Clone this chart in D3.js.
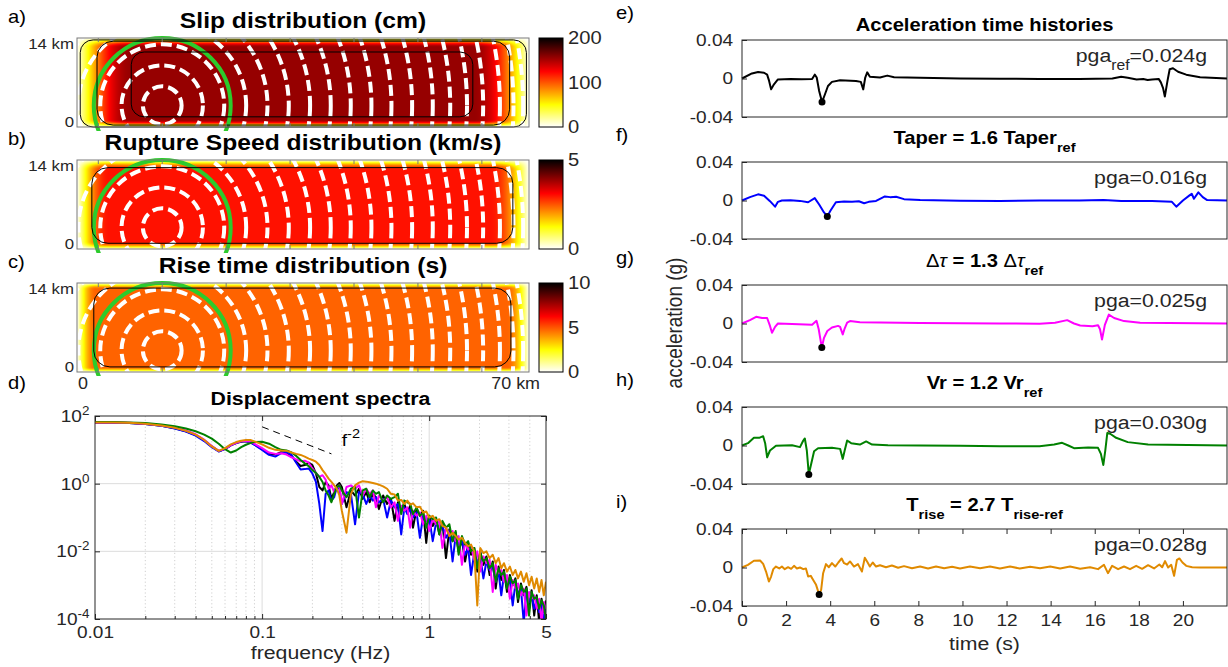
<!DOCTYPE html>
<html>
<head>
<meta charset="utf-8">
<script src="https://cdn.jsdelivr.net/npm/d3@7"></script>
<style>
  body { margin: 0; background: #fff; }
  svg { display: block; font-family: "Liberation Sans", Arial, Helvetica, sans-serif; }
</style>
</head>
<body>
<svg id="fig" width="1228" height="667"></svg>
<script>
// ---------------- data ----------------
const faultLength = 70, faultWidth = 14;
const hypocenter = [13.2, 3.4];
const ruptureRadii = [3.0, 6.3, 9.6, 13.0, 16.3, 19.6, 22.9, 26.1, 29.2, 32.4, 35.5, 38.7, 41.9, 44.6, 47.2, 49.7, 52.3, 54.4, 55.9];
const greenRadius = 10.6;
const faultTicks = [3.3, 13.2, 23.1, 33.0, 42.9, 52.8, 62.7];

const mapLetters = ['a)', 'b)', 'c)'];
const mapTitles = ['Slip distribution (cm)', 'Rupture Speed distribution (km/s)', 'Rise time distribution (s)'];
const mapMax = [200, 5, 10];
const mapColorTicks = [[0, 100, 200], [0, 5], [0, 5, 10]];
const mapPeak = [156, 3.0, 4.8];
const taperLeft = [8.5, 5.0, 3.0];
const taperRight = [8.7, 6.0, 3.5];
const taperTop = [1.5, 1.6, 1.0];
const taperBottom = [1.2, 1.2, 0.8];
// rounded outlines [x0, x1, y0, y1, corner] in km
const mapOutlines = [
  [[8.4, 61.3, 1.6, 11.8, 2.0], [3.1, 67.0, 0.3, 13.5, 2.5], [0.5, 69.6, 0.0, 13.7, 2.0]],
  [[2.3, 67.5, 0.9, 12.8, 2.5]],
  [[2.6, 67.2, 0.8, 13.2, 2.5]]
];

// displacement spectra (log10 amplitude on a shared frequency list)
const specFreq = [
  0.01, 0.013, 0.016, 0.02, 0.025, 0.03, 0.035, 0.04, 0.045, 0.05,
  0.055, 0.06, 0.065, 0.07, 0.075, 0.08, 0.085, 0.09, 0.1, 0.11,
  0.12, 0.13, 0.14, 0.15, 0.16, 0.17, 0.18, 0.19, 0.2, 0.21,
  0.22, 0.23, 0.24, 0.25, 0.26, 0.27, 0.28, 0.29, 0.3, 0.32,
  0.34, 0.36, 0.38, 0.4, 0.42, 0.44, 0.46, 0.48, 0.5, 0.53,
  0.56, 0.59, 0.62, 0.65, 0.68, 0.71, 0.74, 0.77, 0.8, 0.84,
  0.88, 0.92, 0.96, 1.0, 1.05, 1.1, 1.15, 1.2, 1.26, 1.32,
  1.38, 1.44, 1.5, 1.57, 1.64, 1.71, 1.78, 1.86, 1.94, 2.02,
  2.11, 2.2, 2.3, 2.4, 2.5, 2.6, 2.7, 2.8, 2.92, 3.04,
  3.16, 3.28, 3.4, 3.54, 3.68, 3.82, 3.96, 4.1, 4.25, 4.4,
  4.55, 4.7, 4.85, 5.0
];
const specRef = [
  1.80, 1.80, 1.79, 1.76, 1.71, 1.64, 1.55, 1.44, 1.28, 1.10,
  0.96, 1.02, 1.13, 1.20, 1.24, 1.25, 1.22, 1.16, 1.02, 0.88,
  0.86, 0.93, 0.92, 0.82, 0.65, 0.52, 0.55, 0.62, 0.55, 0.30,
  -0.10, -0.20, 0.05, -0.05, -0.45, -0.25, -0.05, 0.02, -0.10, -0.70,
  -0.20, -0.35, -0.15, -0.45, -0.25, -0.55, -0.30, -0.40, -0.75, -0.35,
  -0.60, -0.45, -1.10, -0.55, -0.75, -0.60, -0.85, -0.65, -1.30, -0.75,
  -0.95, -0.80, -1.75, -0.95, -1.25, -1.05, -1.50, -1.15, -2.20, -1.35,
  -1.70, -1.45, -2.00, -1.65, -2.30, -1.80, -2.10, -1.90, -2.60, -2.00,
  -2.40, -2.15, -2.70, -2.30, -3.10, -2.45, -2.85, -2.55, -3.20, -2.70,
  -3.00, -2.80, -3.50, -2.95, -3.30, -3.05, -3.70, -3.15, -3.90, -3.30,
  -4.10, -3.40, -3.80, -3.45
];
const specTaper = [
  1.80, 1.80, 1.79, 1.76, 1.71, 1.63, 1.54, 1.42, 1.26, 1.08,
  0.95, 1.03, 1.14, 1.21, 1.25, 1.26, 1.22, 1.15, 1.00, 0.85,
  0.80, 0.90, 0.93, 0.85, 0.62, 0.42, 0.43, 0.45, 0.30, 0.05,
  -0.60, -1.40, -0.30, -0.20, -0.50, -0.40, -0.10, -0.15, -0.60, -0.25,
  -0.30, -1.20, -0.25, -0.30, -0.60, -0.35, -0.50, -0.40, -0.55, -0.45,
  -1.00, -0.50, -0.70, -0.60, -1.50, -0.70, -0.90, -0.75, -1.00, -0.85,
  -1.60, -0.95, -1.10, -1.00, -1.70, -1.15, -1.35, -1.25, -1.60, -1.40,
  -2.30, -1.55, -1.80, -1.70, -2.10, -1.90, -2.70, -2.05, -2.30, -2.15,
  -2.80, -2.30, -2.55, -2.45, -2.90, -2.60, -3.30, -2.70, -3.00, -2.85,
  -3.60, -2.95, -3.25, -3.10, -4.10, -3.20, -3.50, -3.30, -3.70, -3.45,
  -3.80, -3.55, -4.10, -3.60
];
const specStress = [
  1.81, 1.81, 1.80, 1.77, 1.72, 1.66, 1.57, 1.46, 1.30, 1.11,
  0.97, 1.03, 1.14, 1.21, 1.25, 1.27, 1.24, 1.18, 1.05, 0.92,
  0.88, 0.90, 0.86, 0.78, 0.72, 0.66, 0.68, 0.62, 0.45, 0.32,
  0.20, 0.25, 0.12, -0.15, -0.05, -0.25, -0.10, -0.05, -0.60, -0.10,
  -0.05, -0.15, -0.05, -0.35, -0.15, -0.30, -0.20, -0.70, -0.35, -0.50,
  -0.40, -0.70, -0.55, -1.10, -0.65, -0.80, -0.70, -1.30, -0.80, -0.95,
  -0.85, -1.20, -0.95, -1.40, -1.05, -1.20, -1.10, -1.90, -1.30, -1.50,
  -1.40, -1.70, -1.55, -2.40, -1.75, -1.95, -1.85, -2.25, -2.00, -2.60,
  -2.15, -2.35, -2.25, -3.20, -2.40, -2.65, -2.55, -2.90, -2.70, -3.40,
  -2.85, -3.10, -2.95, -3.30, -3.10, -3.90, -3.20, -3.40, -3.30, -3.70,
  -3.40, -4.10, -3.50, -3.70
];
const specVr = [
  1.82, 1.82, 1.81, 1.79, 1.75, 1.70, 1.63, 1.55, 1.45, 1.33,
  1.18, 1.02, 0.92, 0.98, 1.08, 1.15, 1.20, 1.23, 1.24, 1.18,
  1.08, 1.00, 0.98, 0.92, 0.82, 0.70, 0.60, 0.52, 0.40, 0.32,
  0.20, 0.05, -0.20, -0.35, -0.55, -0.30, -0.10, -0.05, -0.20, -0.40,
  -0.15, -0.10, -1.00, -0.20, -0.15, -0.40, -0.20, -0.30, -0.25, -0.55,
  -0.35, -0.45, -0.40, -0.30, -0.90, -0.50, -0.55, -0.60, -0.90, -0.70,
  -0.95, -0.85, -1.30, -0.95, -1.05, -1.00, -1.50, -1.10, -1.30, -1.20,
  -1.70, -1.40, -2.10, -1.55, -1.80, -1.70, -2.00, -1.90, -2.50, -2.05,
  -2.30, -2.20, -2.50, -2.35, -2.90, -2.50, -2.70, -2.60, -3.10, -2.75,
  -2.95, -2.85, -3.40, -3.00, -3.20, -3.10, -3.90, -3.20, -3.40, -3.35,
  -3.70, -3.45, -3.60, -4.00
];
const specRise = [
  1.81, 1.81, 1.80, 1.77, 1.72, 1.65, 1.56, 1.45, 1.29, 1.10,
  0.97, 1.05, 1.16, 1.23, 1.27, 1.29, 1.29, 1.25, 1.16, 1.06,
  1.00, 0.98, 0.97, 0.92, 0.88, 0.85, 0.80, 0.74, 0.70, 0.65,
  0.55, 0.40, 0.28, 0.15, 0.05, -0.05, -0.15, -0.35, -0.80, -1.45,
  -0.30, -0.05, 0.03, 0.07, 0.06, 0.04, 0.02, 0.00, -0.03, -0.08,
  -0.15, -0.30, -0.32, -0.50, -0.48, -0.60, -0.50, -0.62, -0.58, -0.70,
  -0.68, -0.85, -0.82, -1.00, -0.95, -1.10, -1.05, -1.25, -1.30, -1.55,
  -1.45, -1.55, -1.65, -1.60, -1.75, -1.85, -1.80, -2.00, -3.60, -1.90,
  -2.05, -2.00, -2.20, -2.10, -2.35, -2.20, -2.50, -2.35, -2.60, -2.45,
  -2.70, -2.55, -2.80, -2.60, -2.90, -2.65, -3.00, -2.75, -3.10, -2.80,
  -3.20, -2.85, -3.30, -2.90
];
const specXTicks = [0.01, 0.1, 1, 5];
const specYTicks = [1e-4, 1e-2, 1, 1e2];
const slopeGuide = [[0.1, 47.9], [0.26, 7.6]];

// acceleration time histories [t (s), a (g)]
const accRef = [[0,0],[0.45,0.0053],[0.73,0.0067],[1.0,0.006],[1.14,0.004],[1.23,-0.0025],[1.32,-0.0113],[1.45,-0.006],[1.63,-0.001],[2.2,-0.0005],[2.7,-0.0008],[3.18,-0.0005],[3.3,0.004],[3.39,0.001],[3.5,-0.013],[3.63,-0.0245],[3.76,-0.0166],[3.9,-0.0078],[4.08,-0.0035],[4.45,-0.0018],[5.17,-0.0025],[5.39,-0.0035],[5.5,-0.0113],[5.59,0.001],[5.68,0.0064],[5.8,0.0018],[6.26,0.001],[6.59,0.003],[6.9,0.0014],[8.08,0.0007],[9.9,0],[11.7,-0.0002],[13.5,-0.0004],[15.3,-0.0004],[16.8,0],[17.2,0.0018],[17.5,0.0007],[17.9,-0.001],[18.2,-0.0006],[18.4,-0.0016],[18.6,-0.0010],[18.9,-0.0004],[19.0,-0.004],[19.1,-0.01],[19.18,-0.0188],[19.3,-0.0025],[19.4,0.0096],[19.55,0.0106],[19.78,0.007],[20.15,0.004],[20.78,0.0014],[22,0]];
const accTaper = [[0,0],[0.36,0.0035],[0.73,0.0064],[1.0,0.005],[1.27,-0.0007],[1.5,-0.0064],[1.63,-0.0014],[1.81,0],[2.2,0.0003],[2.63,-0.0004],[3.0,-0.0018],[3.3,0.0025],[3.5,-0.0042],[3.72,-0.0124],[3.87,-0.0165],[4.01,-0.0106],[4.26,-0.0018],[4.63,-0.0011],[4.99,-0.0014],[5.3,-0.0008],[5.54,-0.0028],[5.75,-0.0014],[6.08,-0.0004],[6.35,0.0028],[6.48,0.0042],[6.72,0.0035],[6.99,0.0039],[7.35,0.0014],[8.08,0.0004],[9.9,-0.0002],[11.7,-0.0004],[13.5,0],[15.3,0],[16.4,0.0004],[17.2,-0.0004],[18.6,-0.0004],[19.5,-0.0014],[19.7,-0.0064],[20.0,0],[20.3,0.0053],[20.4,0.007],[20.5,0.0018],[20.7,0.0085],[20.9,0.0035],[21.1,0.0004],[22,0]];
const accStress = [[0,0],[0.36,0.0035],[0.64,0.007],[0.91,0.0057],[1.14,0.0057],[1.27,-0.0025],[1.36,-0.0096],[1.5,-0.0035],[1.63,0],[2.27,-0.0004],[3.18,-0.0014],[3.38,0.0028],[3.48,-0.006],[3.62,-0.025],[3.72,-0.0149],[3.87,-0.0078],[4.08,-0.0042],[4.36,-0.0025],[4.45,-0.0035],[4.57,-0.0113],[4.66,-0.005],[4.77,0.001],[4.9,0.0025],[5.35,0.0014],[6.26,0.0011],[8.08,0.0004],[9.9,0.0002],[11.7,0],[13.5,-0.0002],[14.2,0.0007],[14.75,0.0035],[15.06,0],[15.34,-0.002],[15.9,-0.0028],[16.15,-0.0018],[16.24,-0.006],[16.33,-0.0166],[16.46,-0.0014],[16.64,0.0092],[16.88,0.0057],[17.33,0.0025],[18.06,0.0007],[22,0]];
const accVr = [[0,0],[0.27,0.0024],[0.54,0.008],[0.78,0.008],[0.96,0.0097],[1.05,0.0024],[1.14,-0.0122],[1.27,-0.0052],[1.54,-0.0003],[2.27,0.0003],[2.63,-0.0017],[2.78,0.0052],[2.85,0.0073],[2.94,-0.0052],[3.03,-0.0300],[3.14,-0.019],[3.27,-0.0059],[3.45,-0.0028],[4.08,-0.0024],[4.45,-0.0035],[4.57,-0.0139],[4.66,-0.005],[4.77,0.0052],[4.95,0.0024],[5.35,0.001],[5.63,0.0042],[5.9,0.001],[6.62,0.0003],[8.08,0],[9.9,-0.0003],[11.7,-0.0007],[13.5,-0.0007],[14.16,0.001],[14.52,0.0028],[14.8,0],[15.06,-0.0028],[15.7,-0.0021],[16.15,-0.0024],[16.28,-0.0087],[16.39,-0.0202],[16.48,-0.005],[16.57,0.0129],[16.7,0.0122],[16.97,0.008],[17.5,0.0035],[18.42,0.001],[22,0]];
const accRise = [[0,0],[0.27,0.0028],[0.54,0.007],[0.82,0.0073],[0.96,0.0038],[1.09,-0.0042],[1.22,-0.0146],[1.32,-0.0094],[1.42,-0.0017],[1.54,0.001],[1.69,-0.001],[1.81,0.001],[1.94,-0.0017],[2.09,0.0003],[2.23,-0.0014],[2.36,0.0017],[2.49,-0.001],[2.63,0],[2.78,-0.0017],[2.9,-0.001],[3.0,-0.0094],[3.12,-0.0087],[3.23,-0.0129],[3.36,-0.018],[3.5,-0.028],[3.59,-0.0233],[3.68,-0.0059],[3.81,0.0035],[3.94,0.0003],[4.08,0.0045],[4.23,0.001],[4.37,0.0052],[4.52,0.0094],[4.63,0.0045],[4.77,0.0031],[4.9,0.0063],[5.08,0.001],[5.26,0.0035],[5.44,-0.0042],[5.57,0.0101],[5.68,0.0059],[5.8,0.001],[5.93,0.0052],[6.08,0.001],[6.26,0.0024],[6.53,0.0003],[6.8,0.0021],[7.08,-0.0003],[7.35,0.0014],[7.71,-0.0007],[8.08,0.001],[8.44,-0.001],[8.8,0.001],[9.17,-0.0007],[9.53,0.0007],[9.89,-0.001],[10.34,0.001],[10.8,-0.0007],[11.25,0.001],[11.7,-0.001],[12.16,0.001],[12.6,-0.001],[13.07,0.0007],[13.52,-0.0007],[13.98,0.001],[14.43,-0.001],[14.88,0.001],[15.34,-0.0014],[15.79,0.0003],[16.15,-0.0017],[16.42,0.0028],[16.6,-0.0059],[16.79,0.0017],[17.06,-0.0017],[17.33,0.001],[17.6,-0.0017],[17.88,0.0017],[18.15,-0.0014],[18.42,0.0024],[18.69,-0.001],[18.93,0.0031],[19.06,0.0003],[19.19,0.0066],[19.33,0],[19.47,0.0028],[19.6,-0.0087],[19.73,0.008],[19.84,0.0094],[19.98,0.0052],[20.15,0.0017],[20.42,0.0003],[20.78,0],[22,0]];

const seriesColors = ['#000000', '#0000ff', '#ff00ff', '#008000', '#e08a00'];
const accSeries = [accRef, accTaper, accStress, accVr, accRise];
const specSeries = [specRef, specTaper, specStress, specVr, specRise];
const accLetters = ['e)', 'f)', 'g)', 'h)', 'i)'];
const accTitles = [
  [['Acceleration time histories']],
  [['Taper = 1.6 Taper'], ['ref', 'sub']],
  [['\u0394', 'g'], ['\u03c4', 'gi'], [' = 1.3 '], ['\u0394', 'g'], ['\u03c4', 'gi'], ['ref', 'sub']],
  [['Vr = 1.2 Vr'], ['ref', 'sub']],
  [['T'], ['rise', 'sub'], [' = 2.7 T'], ['rise-ref', 'sub']]
];
const pgaLabels = [
  [['pga'], ['ref', 'sub'], ['=0.024g']],
  [['pga=0.016g']],
  [['pga=0.025g']],
  [['pga=0.030g']],
  [['pga=0.028g']]
];
const accTicks = [-0.04, 0, 0.04];
const timeTicks = [0, 2, 4, 6, 8, 10, 12, 14, 16, 18, 20];

// ---------------- layout ----------------
const SX = 1.12;               // figure is slightly stretched horizontally
const MX0 = 77, MX1 = 529, MH = 89, mapTops = [38, 160, 283];
const CBX = 539, CBW = 24;
const SP = { x0: 95, x1: 546, y0: 416, y1: 619 };
const TX0 = 742, TX1 = 1227, TH = 77, accTops = [40, 162, 285, 407, 529];
const INK = '#262626';

const svg = d3.select('#fig');
const defs = svg.append('defs');

function hotRev(t) {
  const h = 1 - Math.max(0, Math.min(1, t));
  const r = Math.min(1, h / 0.375);
  const g = Math.max(0, Math.min(1, (h - 0.375) / 0.375));
  const b = Math.max(0, Math.min(1, (h - 0.75) / 0.25));
  return d3.rgb(r * 255, g * 255, b * 255);
}

function txt(g, x, y, parts, o = {}) {
  const size = o.size || 17;
  const t = g.append('text')
    .attr('transform', `translate(${x},${y}) scale(${SX},1)`)
    .attr('font-size', size)
    .attr('font-weight', o.bold ? 'bold' : null)
    .attr('text-anchor', o.anchor || 'start')
    .attr('fill', o.fill || INK);
  if (typeof parts === 'string') parts = [[parts]];
  let shift = 0;
  parts.forEach(([s, st]) => {
    const sp = t.append('tspan').text(s);
    const target = st === 'sub' ? Math.round(size * 0.42) : st === 'sup' ? -Math.round(size * 0.45) : 0;
    if (target !== shift) { sp.attr('dy', target - shift); shift = target; }
    if (st === 'sub' || st === 'sup') sp.attr('font-size', Math.round(size * 0.74));
    if (st === 'g') sp.attr('font-weight', 'normal');
    if (st === 'gi') sp.attr('font-weight', 'normal').attr('font-style', 'italic');
  });
  return t;
}

function taper(d, w) {
  if (d <= 0) return 0;
  if (d >= w) return 1;
  return Math.sin(Math.PI / 2 * d / w);
}

// ---------------- fault maps a-c ----------------
const xs = d3.scaleLinear().domain([0, faultLength]).range([MX0, MX1]);

mapTops.forEach((top, k) => {
  const ys = d3.scaleLinear().domain([0, faultWidth]).range([top + MH, top]);
  const color = d3.scaleSequential(hotRev).domain([0, mapMax[k]]);
  const g = svg.append('g');

  // field image
  const w = MX1 - MX0, h = MH;
  const cv = document.createElement('canvas');
  cv.width = w; cv.height = h;
  const ctx = cv.getContext('2d');
  const img = ctx.createImageData(w, h);
  for (let j = 0; j < h; j++) {
    const yk = ys.invert(top + j + 0.5);
    const ty = taper(yk, taperBottom[k]) * taper(faultWidth - yk, taperTop[k]);
    for (let i = 0; i < w; i++) {
      const xk = xs.invert(MX0 + i + 0.5);
      const v = mapPeak[k] * ty * taper(xk, taperLeft[k]) * taper(faultLength - xk, taperRight[k]);
      const c = d3.rgb(color(v));
      const p = (j * w + i) * 4;
      img.data[p] = c.r; img.data[p + 1] = c.g; img.data[p + 2] = c.b; img.data[p + 3] = 255;
    }
  }
  ctx.putImageData(img, 0, 0);
  g.append('image').attr('x', MX0).attr('y', top).attr('width', w).attr('height', h)
    .attr('preserveAspectRatio', 'none').attr('href', cv.toDataURL());

  defs.append('clipPath').attr('id', 'clipMap' + k)
    .append('rect').attr('x', MX0).attr('y', top).attr('width', w).attr('height', h);
  defs.append('clipPath').attr('id', 'clipMapG' + k)
    .append('rect').attr('x', MX0).attr('y', top - 4).attr('width', w).attr('height', h + 8);

  const cx = xs(hypocenter[0]), cy = ys(hypocenter[1]);
  const rx = r => xs(hypocenter[0] + r) - cx, ry = r => cy - ys(hypocenter[1] + r);

  g.append('g').attr('clip-path', `url(#clipMap${k})`)
    .selectAll('ellipse').data(ruptureRadii).join('ellipse')
    .attr('cx', cx).attr('cy', cy).attr('rx', rx).attr('ry', ry)
    .attr('fill', 'none').attr('stroke', '#fff').attr('stroke-width', 4)
    .attr('stroke-dasharray', '11,5');

  g.append('g').attr('clip-path', `url(#clipMapG${k})`)
    .append('ellipse')
    .attr('cx', cx).attr('cy', cy).attr('rx', rx(greenRadius)).attr('ry', ry(greenRadius))
    .attr('fill', 'none').attr('stroke', '#2ccb2c').attr('stroke-width', 4);

  g.selectAll('rect.outline').data(mapOutlines[k]).join('rect').attr('class', 'outline')
    .attr('x', d => xs(d[0])).attr('y', d => ys(d[3]))
    .attr('width', d => xs(d[1]) - xs(d[0])).attr('height', d => ys(d[2]) - ys(d[3]))
    .attr('rx', d => xs(d[4]) - xs(0)).attr('ry', d => ys(0) - ys(d[4]))
    .attr('fill', 'none').attr('stroke', '#000').attr('stroke-width', 1);

  g.append('rect').attr('x', MX0).attr('y', top).attr('width', w).attr('height', h)
    .attr('fill', 'none').attr('stroke', '#7a7a7a').attr('stroke-width', 1);
  g.selectAll('line.ft').data(faultTicks).join('line').attr('class', 'ft')
    .attr('x1', d => xs(d)).attr('x2', d => xs(d)).attr('y1', top).attr('y2', top + 4)
    .attr('stroke', '#7a7a7a');
  g.selectAll('line.fb').data(faultTicks).join('line').attr('class', 'fb')
    .attr('x1', d => xs(d)).attr('x2', d => xs(d)).attr('y1', top + h).attr('y2', top + h - 4)
    .attr('stroke', '#7a7a7a');

  txt(g, 74, top + 11, '14 km', { size: 15, anchor: 'end' });
  txt(g, 74, top + h, '0', { size: 15, anchor: 'end' });
  txt(g, (MX0 + MX1) / 2, top - 10, mapTitles[k], { size: 22, bold: true, anchor: 'middle', fill: '#000' });
  txt(g, 8, top - 15, mapLetters[k], { size: 18, fill: '#000' });

  // colorbar
  const grad = defs.append('linearGradient').attr('id', 'cb' + k)
    .attr('x1', 0).attr('y1', 1).attr('x2', 0).attr('y2', 0);
  d3.range(0, 41).forEach(i => grad.append('stop')
    .attr('offset', i / 40).attr('stop-color', color(mapMax[k] * i / 40)));
  const cbs = d3.scaleLinear().domain([0, mapMax[k]]).range([top + h, top]);
  g.append('rect').attr('x', CBX).attr('y', top).attr('width', CBW).attr('height', h)
    .attr('fill', `url(#cb${k})`).attr('stroke', '#000').attr('stroke-width', 1);
  mapColorTicks[k].forEach(v => {
    txt(g, CBX + CBW + 5, cbs(v) + 6, String(v), { size: 18 });
  });
});
txt(svg, 8, 389, 'd)', { size: 18, fill: '#000' });
txt(svg, xs(0) + 1, 389, '0', { size: 16 });
txt(svg, xs(faultLength) + 11, 389, '70 km', { size: 16, anchor: 'end' });

// ---------------- spectra d ----------------
const sx = d3.scaleLog().domain([0.01, 5]).range([SP.x0, SP.x1]);
const sy = d3.scaleLog().domain([1e-4, 1e2]).range([SP.y1, SP.y0]);
const gs = svg.append('g');
const minor = sx.ticks().filter(f => !specXTicks.includes(f) && Math.abs(Math.log10(f) - Math.round(Math.log10(f))) > 1e-6);
gs.selectAll('line.mg').data(minor).join('line')
  .attr('x1', d => sx(d)).attr('x2', d => sx(d)).attr('y1', SP.y0).attr('y2', SP.y1)
  .attr('stroke', '#c4c4c4').attr('stroke-width', 0.8).attr('stroke-dasharray', '1.2,2.4');
gs.selectAll('line.gx').data([0.1, 1]).join('line')
  .attr('x1', d => sx(d)).attr('x2', d => sx(d)).attr('y1', SP.y0).attr('y2', SP.y1)
  .attr('stroke', '#dcdcdc').attr('stroke-width', 1);
gs.selectAll('line.gy').data([1e-2, 1]).join('line')
  .attr('y1', d => sy(d)).attr('y2', d => sy(d)).attr('x1', SP.x0).attr('x2', SP.x1)
  .attr('stroke', '#dcdcdc').attr('stroke-width', 1);

defs.append('clipPath').attr('id', 'clipSpec')
  .append('rect').attr('x', SP.x0).attr('y', SP.y0).attr('width', SP.x1 - SP.x0).attr('height', SP.y1 - SP.y0);
const specLine = d3.line().x((d, i) => sx(specFreq[i])).y(d => sy(Math.pow(10, d)));
gs.append('g').attr('clip-path', 'url(#clipSpec)')
  .selectAll('path').data(specSeries).join('path')
  .attr('d', specLine).attr('fill', 'none')
  .attr('stroke', (d, i) => seriesColors[i]).attr('stroke-width', 2).attr('stroke-linejoin', 'round');

gs.append('path')
  .attr('d', d3.line().x(d => sx(d[0])).y(d => sy(d[1]))(slopeGuide))
  .attr('fill', 'none').attr('stroke', '#000').attr('stroke-width', 1).attr('stroke-dasharray', '7,5');
txt(gs, sx(0.3), sy(Math.pow(10, 1.1)), [['f'], ['-2', 'sup']], { size: 17, fill: '#000' });

const axB = gs.append('g').attr('transform', `translate(0,${SP.y1})`)
  .call(d3.axisBottom(sx).tickValues(specXTicks).tickFormat(d => String(d)).tickSizeInner(-5).tickSizeOuter(0).tickPadding(7));
const axBm = gs.append('g').attr('transform', `translate(0,${SP.y1})`)
  .call(d3.axisBottom(sx).tickValues(minor).tickFormat('').tickSizeInner(-3).tickSizeOuter(0));
const axT = gs.append('g').attr('transform', `translate(0,${SP.y0})`)
  .call(d3.axisTop(sx).tickValues(specXTicks).tickFormat('').tickSizeInner(-5).tickSizeOuter(0));
const axL = gs.append('g').attr('transform', `translate(${SP.x0},0)`)
  .call(d3.axisLeft(sy).tickValues(specYTicks).tickSizeInner(-5).tickSizeOuter(0).tickPadding(5));
const axR = gs.append('g').attr('transform', `translate(${SP.x1},0)`)
  .call(d3.axisRight(sy).tickValues(specYTicks).tickFormat('').tickSizeInner(-5).tickSizeOuter(0));
[axB, axBm, axT, axL, axR].forEach(a => {
  a.select('.domain').remove();
  a.selectAll('line').attr('stroke', INK);
  a.selectAll('text').attr('font-size', 17).attr('fill', INK).attr('font-family', null)
    .attr('transform', `scale(${SX},1)`);
});
axL.selectAll('text').each(function (d) {
  const t = d3.select(this).text('');
  t.append('tspan').text('10');
  t.append('tspan').attr('dy', -7).attr('font-size', 12).text(String(Math.round(Math.log10(d))));
});
gs.append('rect').attr('x', SP.x0).attr('y', SP.y0).attr('width', SP.x1 - SP.x0).attr('height', SP.y1 - SP.y0)
  .attr('fill', 'none').attr('stroke', INK).attr('stroke-width', 1);
txt(gs, (SP.x0 + SP.x1) / 2, SP.y0 - 11, 'Displacement spectra', { size: 19, bold: true, anchor: 'middle', fill: '#000' });
txt(gs, (SP.x0 + SP.x1) / 2, 659, 'frequency (Hz)', { size: 19, anchor: 'middle' });

// ---------------- acceleration e-i ----------------
const tx = d3.scaleLinear().domain([0, 22]).range([TX0, TX1]);
accTops.forEach((top, k) => {
  const ty = d3.scaleLinear().domain([-0.04, 0.04]).range([top + TH, top]);
  const g = svg.append('g');
  g.append('path').datum(accSeries[k])
    .attr('d', d3.line().x(d => tx(d[0])).y(d => ty(d[1])))
    .attr('fill', 'none').attr('stroke', seriesColors[k]).attr('stroke-width', 2).attr('stroke-linejoin', 'round');
  const pk = d3.least(accSeries[k], d => d[1]);
  g.append('circle').attr('cx', tx(pk[0])).attr('cy', ty(pk[1])).attr('r', 3.5).attr('fill', '#000');

  const ay = g.append('g').attr('transform', `translate(${TX0},0)`)
    .call(d3.axisLeft(ty).tickValues(accTicks).tickFormat(d => d === 0 ? '0' : d.toFixed(2))
      .tickSizeInner(-5).tickSizeOuter(0).tickPadding(8));
  const axes = [ay];
  if (k === accTops.length - 1) {
    axes.push(g.append('g').attr('transform', `translate(0,${top + TH})`)
      .call(d3.axisBottom(tx).tickValues(timeTicks).tickSizeInner(-5).tickSizeOuter(0).tickPadding(8)));
    axes.push(g.append('g').attr('transform', `translate(0,${top})`)
      .call(d3.axisTop(tx).tickValues(timeTicks).tickFormat('').tickSizeInner(-5).tickSizeOuter(0)));
  }
  axes.forEach(a => {
    a.select('.domain').remove();
    a.selectAll('line').attr('stroke', INK);
    a.selectAll('text').attr('font-size', 17).attr('fill', INK).attr('font-family', null)
      .attr('transform', `scale(${SX},1)`);
  });
  g.append('rect').attr('x', TX0).attr('y', top).attr('width', TX1 - TX0).attr('height', TH)
    .attr('fill', 'none').attr('stroke', INK).attr('stroke-width', 1);

  const sub = accTitles[k].some(p => p[1] === 'sub');
  txt(g, (TX0 + TX1) / 2, top - (sub ? 18 : 9), accTitles[k], { size: 18, bold: true, anchor: 'middle', fill: '#000' });
  txt(g, 1207, top + 22, pgaLabels[k], { size: 19, anchor: 'end' });
  txt(g, 616, top - 21, accLetters[k], { size: 18, fill: '#000' });
});
txt(svg, (TX0 + TX1) / 2, 650, 'time (s)', { size: 19, anchor: 'middle' });
svg.append('text')
  .attr('transform', `translate(682,${(accTops[0] + accTops[4] + TH) / 2}) rotate(-90) scale(1,${SX})`)
  .attr('text-anchor', 'middle').attr('font-size', 19).attr('fill', INK)
  .text('acceleration (g)');
</script>
</body>
</html>
